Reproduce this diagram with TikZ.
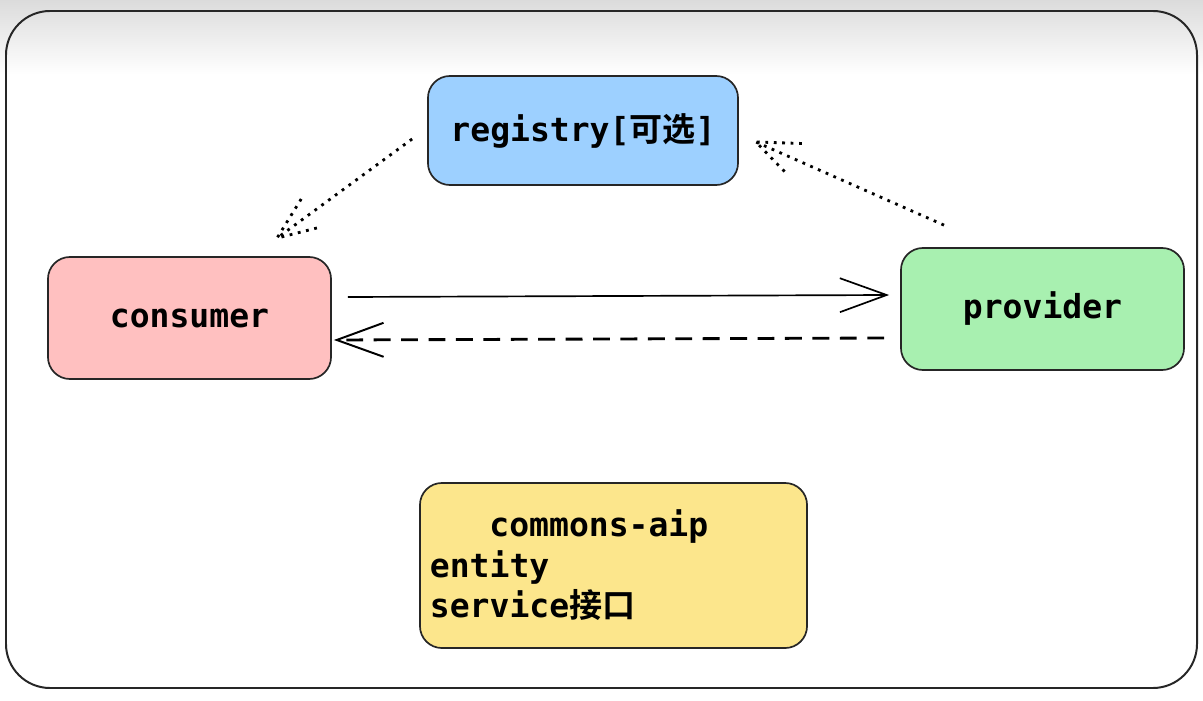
\documentclass[tikz,border=0pt]{standalone}
\usepackage{fontspec}
\setmonofont{DejaVu Sans Mono}
\newfontfamily\cjk{Noto Sans CJK SC}[BoldFont={Noto Sans CJK SC Bold}]
\usetikzlibrary{arrows.meta,calc}

\definecolor{regblue}{RGB}{157,208,255}
\definecolor{conpink}{RGB}{255,192,192}
\definecolor{progreen}{RGB}{168,240,176}
\definecolor{comyellow}{RGB}{252,230,140}

\begin{document}
\begin{tikzpicture}[x=0.025cm,y=-0.025cm,
    box/.style={draw=black!85,line width=1.2pt,rounded corners=0.55cm,
        font=\ttfamily\bfseries\fontsize{23.5}{28.8}\selectfont,
        minimum width=7.075cm,minimum height=3.05cm},
    dotline/.style={line width=2pt,dash pattern=on 2pt off 4pt},
    callline/.style={line width=1.2pt,-{Straight Barb[length=1.17cm,width=0.85cm]}},
    backline/.style={line width=2pt,dash pattern=on 12pt off 7.5pt,
        -{Straight Barb[length=1.17cm,width=0.85cm,line width=1.4pt]}}]

    % frame and top shade
    \useasboundingbox (0,0) rectangle (1203,701);
    \fill[white] (0,0) rectangle (1203,701);
    \shade[top color=black!14,bottom color=white] (0,0) rectangle (1203,75);
    \draw[line width=1.4pt,black!85,rounded corners=1.1cm] (6,11) rectangle (1197,688);

    % the four parts
    \node[box,fill=regblue,minimum width=7.75cm,minimum height=2.725cm] (registry)
        at (583,130.5) {registry[{\cjk 可选}]};
    \node[box,fill=conpink] (consumer) at (189.5,318) {consumer};
    \node[box,fill=progreen] (provider) at (1042.5,309) {provider};
    \node[box,fill=comyellow,minimum height=4.125cm,inner sep=0.25cm,
        text width=9.175cm,align=left] (commons) at (613.5,565.5)
        {\hspace*{1.8em}commons-aip\\entity\\service{\cjk 接口}};

    % ends of the dotted registry lines
    \coordinate (regL) at ([shift={(-15,8.5)}]registry.west);
    \coordinate (conT) at ([shift={(87.5,-18)}]consumer.north);
    \coordinate (proT) at ([shift={(-98.5,-22)}]provider.north);
    \coordinate (regR) at ([shift={(17,11.5)}]registry.east);

    \foreach \s/\t in {regL/conT, proT/regR} {
        \draw[dotline] (\s) -- (\t);
        \draw[dotline] ($(\t)!1.15cm!22:(\s)$) -- (\t) -- ($(\t)!1.15cm!-22:(\s)$);
    }

    % call and answer
    \draw[callline] ([shift={(16,-21)}]consumer.east) -- ([shift={(-11,-14)}]provider.west);
    \draw[backline] ([shift={(-16,29)}]provider.west) -- ([shift={(2,22)}]consumer.east);

\end{tikzpicture}
\end{document}
